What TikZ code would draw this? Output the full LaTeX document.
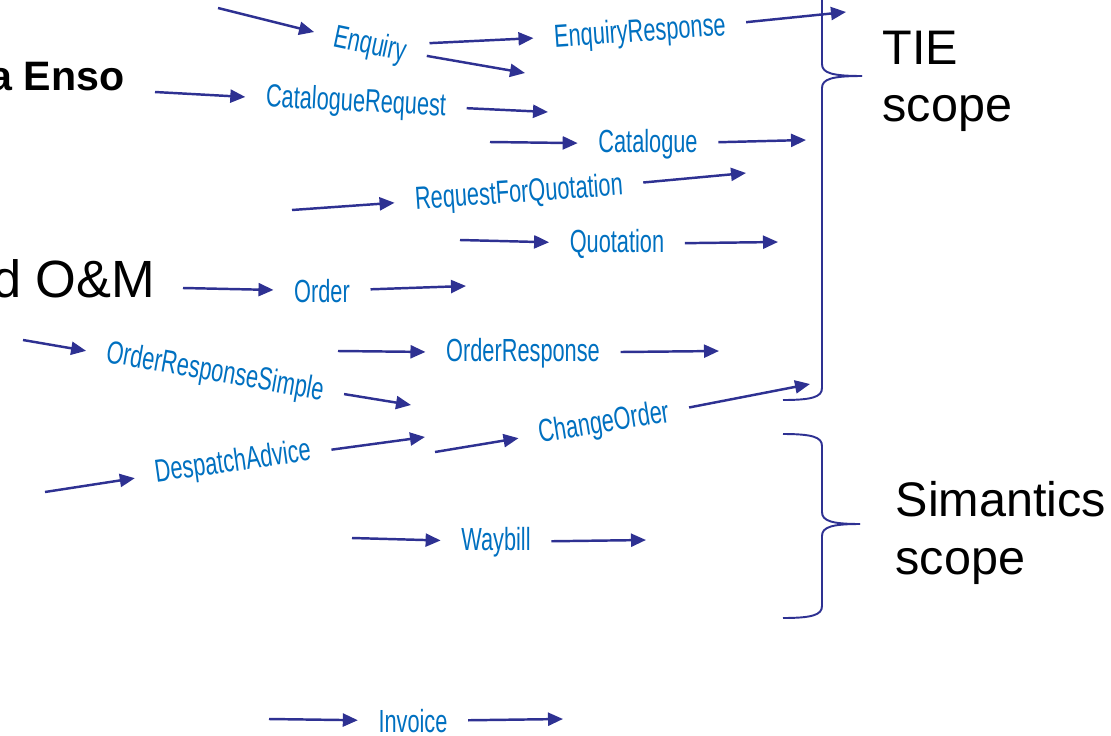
\documentclass[tikz,border=0pt]{standalone}
\usepackage{fontspec}
\setmainfont{Liberation Sans}
\newfontfamily\msgfont[FakeStretch=0.68]{Liberation Sans}
\usetikzlibrary{arrows.meta}
\definecolor{msgblue}{RGB}{0,112,192}
\definecolor{arrowblue}{RGB}{46,49,146}
\tikzset{msg/.style={text=msgblue,font=\msgfont\fontsize{9.1}{10}\selectfont,inner xsep=0.2cm,inner ysep=0pt},
flow/.style={draw=arrowblue,line width=0.7pt,-{Triangle[length=0.15cm,width=0.13cm]}},
brace/.style={draw=arrowblue,line width=0.55pt},
party/.style={inner sep=0pt,font=\fontsize{14.9}{17}\selectfont},
scopelabel/.style={inner sep=0pt,align=left,font=\fontsize{13.8}{16.3}\selectfont}}

\begin{document}
\begin{tikzpicture}[x=0.01cm,y=-0.01cm]
\useasboundingbox (0,0) rectangle (1111,736);
% parties (cut at the left edge)
\node[party,font=\bfseries\fontsize{11.7}{14}\selectfont,anchor=base east] (enso) at (125,90) {a Enso};
\node[party,anchor=base east] (om) at (156,297) {d O\&M};
% messages
\node[msg,rotate=-12] (enq) at (370,46) {Enquiry};
\node[msg,rotate=4] (enqr) at (640,33) {EnquiryResponse};
\node[msg,rotate=-3] (catreq) at (356,103) {CatalogueRequest};
\node[msg] (cat) at (648,144) {Catalogue};
\node[msg,rotate=4] (rfq) at (519,194) {RequestForQuotation};
\node[msg] (quo) at (617,244) {Quotation};
\node[msg] (ord) at (322,291) {Order};
\node[msg,rotate=-10] (ors) at (215,373) {OrderResponseSimple};
\node[msg] (ordr) at (523,353) {OrderResponse};
\node[msg,rotate=8] (desp) at (233,463) {DespatchAdvice};
\node[msg,rotate=9] (chg) at (604,424) {ChangeOrder};
\node[msg] (way) at (496,542) {Waybill};
\node[msg] (inv) at (413,721) {Invoice};
% free ends
\coordinate (enq in) at (218,8);
\coordinate (enq out) at (525,73);
\coordinate (enqr out) at (846,12);
\coordinate (catreq in) at (155,92);
\coordinate (catreq out) at (548,112);
\coordinate (cat in) at (490,142);
\coordinate (cat out) at (806,140);
\coordinate (rfq in) at (292,210);
\coordinate (rfq out) at (746,173);
\coordinate (quo in) at (460,240);
\coordinate (quo out) at (778,242);
\coordinate (ord in) at (183,288);
\coordinate (ord out) at (466,286);
\coordinate (ors in) at (23,340);
\coordinate (ors out) at (411,405);
\coordinate (ordr in) at (338,351);
\coordinate (ordr out) at (719,351);
\coordinate (desp in) at (45,492);
\coordinate (desp out) at (425,437);
\coordinate (chg in) at (435,452);
\coordinate (chg out) at (810,384);
\coordinate (way in) at (352,538);
\coordinate (way out) at (646,540);
\coordinate (inv in) at (269,719);
\coordinate (inv out) at (563,719);
% arrows
\draw[flow] (enq in) -- (enq);
\draw[flow] (enq) -- (enqr);
\draw[flow] (enq) -- (enq out);
\draw[flow] (enqr) -- (enqr out);
\draw[flow] (catreq in) -- (catreq);
\draw[flow] (catreq) -- (catreq out);
\draw[flow] (cat in) -- (cat);
\draw[flow] (cat) -- (cat out);
\draw[flow] (rfq in) -- (rfq);
\draw[flow] (rfq) -- (rfq out);
\draw[flow] (quo in) -- (quo);
\draw[flow] (quo) -- (quo out);
\draw[flow] (ord in) -- (ord);
\draw[flow] (ord) -- (ord out);
\draw[flow] (ors in) -- (ors);
\draw[flow] (ors) -- (ors out);
\draw[flow] (ordr in) -- (ordr);
\draw[flow] (ordr) -- (ordr out);
\draw[flow] (desp in) -- (desp);
\draw[flow] (desp) -- (desp out);
\draw[flow] (chg in) -- (chg);
\draw[flow] (chg) -- (chg out);
\draw[flow] (way in) -- (way);
\draw[flow] (way) -- (way out);
\draw[flow] (inv in) -- (inv);
\draw[flow] (inv) -- (inv out);
% braces
\draw[brace] (783,400) .. controls (812,400) and (822,397) .. (822,388) -- (822,88) .. controls (822,79) and (832,76) .. (862,76);
\draw[brace] (862,76) .. controls (832,76) and (822,73) .. (822,64) -- (822,-10);
\draw[brace] (783,434) .. controls (812,434) and (822,437) .. (822,446) -- (822,512) .. controls (822,521) and (832,524) .. (860,524);
\draw[brace] (860,524) .. controls (832,524) and (822,527) .. (822,536) -- (822,606) .. controls (822,615) and (812,618) .. (783,618);
\node[scopelabel,anchor=north west] (tie) at (882,30) {TIE\\scope};
\node[scopelabel,anchor=north west] (sim) at (895,481) {Simantics\\scope};
\end{tikzpicture}
\end{document}
